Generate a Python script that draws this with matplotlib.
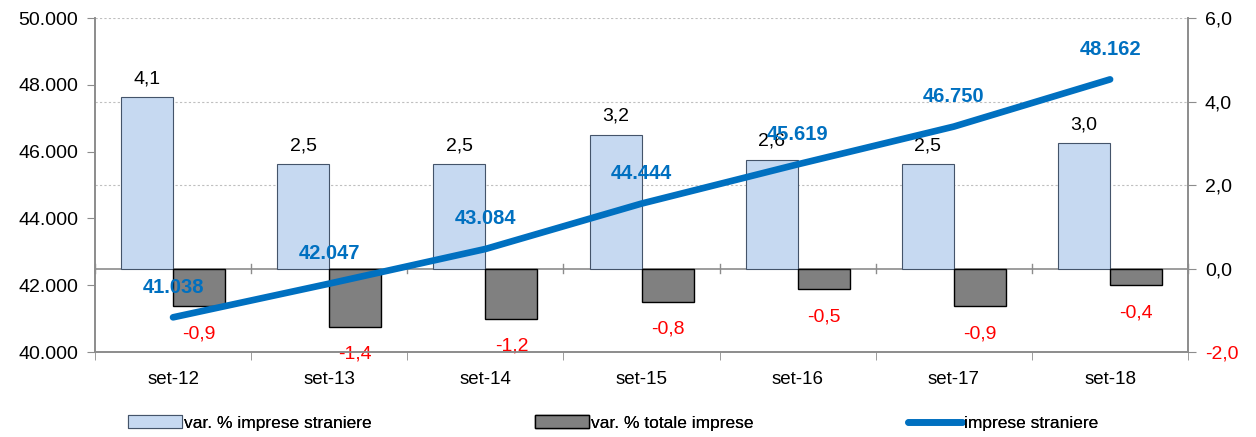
import matplotlib.pyplot as plt
import numpy as np
from matplotlib.patches import Patch
from matplotlib.lines import Line2D

plt.rcParams['font.family'] = ['Liberation Sans', 'DejaVu Sans']

categories = ["set-12", "set-13", "set-14", "set-15", "set-16", "set-17", "set-18"]
var_straniere = [4.1, 2.5, 2.5, 3.2, 2.6, 2.5, 3.0]
var_totale = [-0.9, -1.4, -1.2, -0.8, -0.5, -0.9, -0.4]
imprese_straniere = [41038, 42047, 43084, 44444, 45619, 46750, 48162]

light_blue = "#C6D9F1"
dark_gray = "#808080"
line_blue = "#0070C0"
axis_gray = "#8C8C8C"

def it_int(v):
    return f"{v:,.0f}".replace(",", ".")

def it_dec(v):
    return f"{v:.1f}".replace(".", ",")

fig = plt.figure(figsize=(12.56, 4.37), dpi=100)
ax = fig.add_axes([0.0756, 0.1945, 0.8704, 0.7643])
ax2 = ax.twinx()

x = np.arange(len(categories))
w = 1 / 3

# bars on right axis
ax2.bar(x - w / 2, var_straniere, w, color=light_blue, edgecolor="#44546A", linewidth=0.8, zorder=2)
ax2.bar(x + w / 2, var_totale, w, color=dark_gray, edgecolor="black", linewidth=1.0, zorder=2)
ax2.set_ylim(-2, 6)
ax2.set_yticks([-2, 0, 2, 4, 6])
ax2.set_yticklabels([it_dec(v) for v in [-2, 0, 2, 4, 6]], fontsize=14)
ax2.get_yticklabels()[0].set_color("red")
for yv in [2, 4, 6]:
    ax2.axhline(yv, color="#BFBFBF", linestyle=(0, (2, 2)), linewidth=0.8, zorder=0)
ax2.axhline(0, color=axis_gray, linewidth=1.2, zorder=1)
for b in np.arange(len(categories) + 1) - 0.5:
    ax2.plot([b, b], [-0.1, 0.1], color=axis_gray, linewidth=1, zorder=1, clip_on=False)

for i, v in enumerate(var_straniere):
    ax2.annotate(it_dec(v), (x[i] - w / 2, v), xytext=(0, 10), textcoords="offset pixels",
                 ha="center", va="bottom", fontsize=14, color="black", zorder=6)
for i, v in enumerate(var_totale):
    ax2.annotate(it_dec(v), (x[i] + w / 2, v), xytext=(0, -19), textcoords="offset pixels",
                 ha="center", va="top", fontsize=14, color="red", zorder=6)

# line on left axis
ax.plot(x, imprese_straniere, color=line_blue, linewidth=4.8, solid_capstyle="round", zorder=4)
ax.set_ylim(40000, 50000)
ax.set_yticks(np.arange(40000, 50001, 2000))
ax.set_yticklabels([it_int(v) for v in np.arange(40000, 50001, 2000)], fontsize=14)
for i, v in enumerate(imprese_straniere):
    ax.annotate(it_int(v), (x[i], v), xytext=(0, 30), textcoords="offset pixels",
                ha="center", va="center", fontsize=14.5, fontweight="bold", color=line_blue, zorder=7)

ax.set_zorder(ax2.get_zorder() + 1)
ax.patch.set_visible(False)

ax.set_xlim(-0.5, len(categories) - 0.5)
ax.set_xticks(x)
ax.set_xticklabels(categories, fontsize=13.5)
ax.tick_params(axis="x", length=0, pad=14)
ax.set_xticks(np.arange(len(categories) + 1) - 0.5, minor=True)
ax.tick_params(axis="x", which="minor", length=6, color=axis_gray, direction="out")
ax.tick_params(axis="y", length=6, color=axis_gray, pad=6)
ax2.tick_params(axis="y", length=6, color=axis_gray, pad=6)

for a in (ax, ax2):
    a.spines["top"].set_visible(False)
    for s in ("left", "right", "bottom"):
        a.spines[s].set_color(axis_gray)
        a.spines[s].set_linewidth(1.2)

# legend: three entries at their own places
handles = [
    Patch(facecolor=light_blue, edgecolor="#44546A", linewidth=0.8),
    Patch(facecolor=dark_gray, edgecolor="black", linewidth=1.0),
    Line2D([0], [0], color=line_blue, linewidth=4.8, solid_capstyle="round"),
]
labels = ["var. % imprese straniere", "var. % totale imprese", "imprese straniere"]
starts = [128, 535, 908]
for h, lab, xs in zip(handles, labels, starts):
    leg = fig.legend([h], [lab], loc="center left", bbox_to_anchor=(xs / 1256, 1 - 423 / 437),
                     frameon=False, handlelength=3.1, handletextpad=0.15, borderpad=0,
                     borderaxespad=0, fontsize=12.5)
    fig.add_artist(leg)

fig.savefig("out.png", dpi=100)
